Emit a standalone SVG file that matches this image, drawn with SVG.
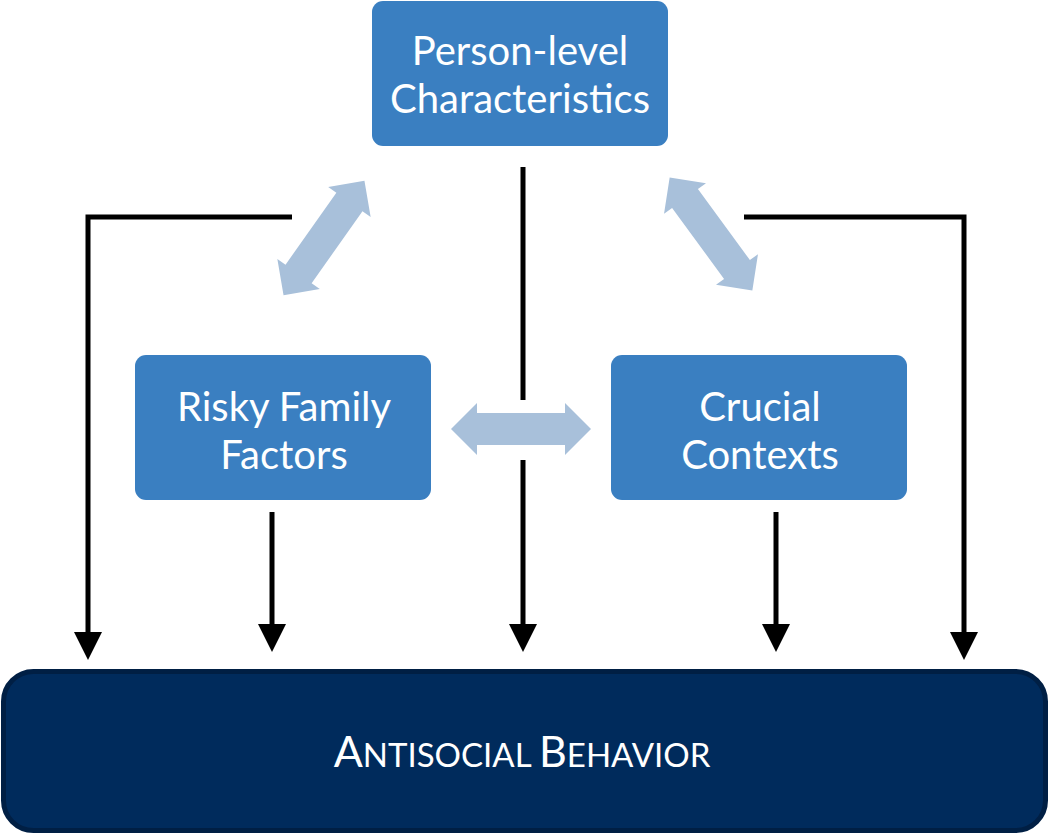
<svg xmlns="http://www.w3.org/2000/svg" width="1050" height="834" viewBox="0 0 1050 834">
<defs>
<style>
.box{fill:#3a7fc1;}
.lbl{font-family:Lato,"Open Sans",sans-serif;font-size:40px;fill:#ffffff;text-anchor:middle;}
.ln{stroke:#000;stroke-width:5;fill:none;}
.dbl{fill:#a8c0da;}
</style>
<polygon id="dbla" points="-70,0 -44,-26 -44,-16 44,-16 44,-26 70,0 44,26 44,16 -44,16 -44,26"/>
</defs>
<rect width="1050" height="834" fill="#fff"/>
<g id="connectors">
<path class="ln" d="M292,217 H88 V636"/>
<path class="ln" d="M744,217 H964 V636"/>
<line class="ln" x1="523" y1="167" x2="523" y2="400"/>
<line class="ln" x1="523" y1="460" x2="523" y2="628"/>
<line class="ln" x1="272" y1="512" x2="272" y2="628"/>
<line class="ln" x1="776" y1="512" x2="776" y2="628"/>
<path d="M74,632 L102,632 L88,660 Z" fill="#000"/>
<path d="M950,632 L978,632 L964,660 Z" fill="#000"/>
<path d="M509,624 L537,624 L523,652 Z" fill="#000"/>
<path d="M258,624 L286,624 L272,652 Z" fill="#000"/>
<path d="M762,624 L790,624 L776,652 Z" fill="#000"/>
<use href="#dbla" class="dbl" transform="translate(521,429)"/>
<use href="#dbla" class="dbl" transform="translate(324,238) rotate(-54.7)"/>
<use href="#dbla" class="dbl" transform="translate(711,234) rotate(53.8)"/>
</g>
<g id="person">
<rect class="box" x="372" y="1" width="296" height="145" rx="11"/>
<text class="lbl" x="520" y="65">Person-level</text>
<text class="lbl" x="520" y="113">Characteristics</text>
</g>
<g id="family">
<rect class="box" x="135" y="355" width="296" height="145" rx="11"/>
<text class="lbl" x="284" y="421">Risky Family</text>
<text class="lbl" x="284" y="469">Factors</text>
</g>
<g id="contexts">
<rect class="box" x="611" y="355" width="296" height="145" rx="11"/>
<text class="lbl" x="760" y="421">Crucial</text>
<text class="lbl" x="760" y="469">Contexts</text>
</g>
<g id="antisocial">
<rect x="3.5" y="671.5" width="1042" height="159" rx="30" fill="#002b5c" stroke="#001f44" stroke-width="5"/>
<text class="lbl" x="522" y="767"><tspan font-size="43">A</tspan><tspan font-size="33">NTISOCIAL </tspan><tspan font-size="43">B</tspan><tspan font-size="33">EHAVIOR</tspan></text>
</g>
</svg>
